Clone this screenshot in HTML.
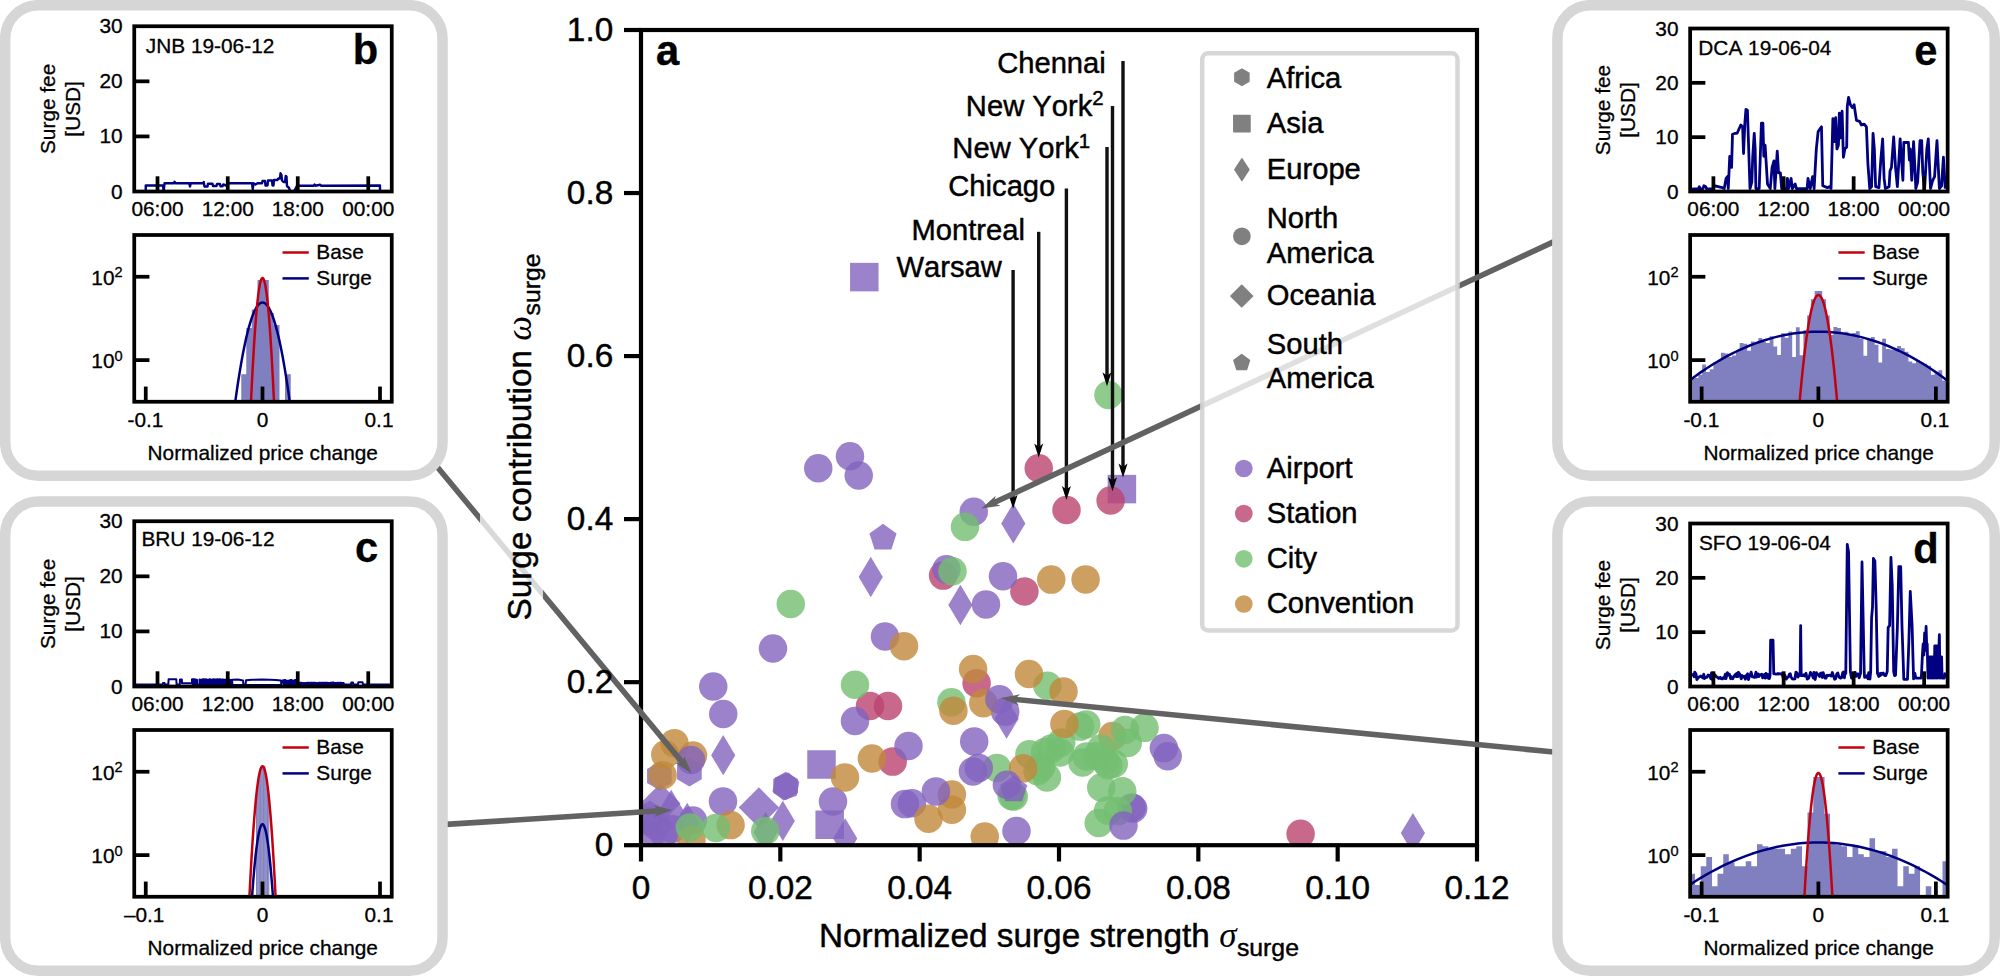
<!DOCTYPE html>
<html lang="en"><head><meta charset="utf-8"><title>Surge pricing figure</title>
<style>html,body{margin:0;padding:0;background:#fff;}svg{display:block;}text{font-family:'Liberation Sans', sans-serif;fill:#000;font-kerning:none;stroke:#000;stroke-width:0.45px;stroke-linejoin:round;}.sm text{stroke-width:0.3px;}</style>
</head><body>
<svg width="2000" height="977" viewBox="0 0 2000 977">
<rect width="2000" height="977" fill="#fff"/>
<clipPath id="cm"><rect x="641" y="30" width="836" height="815.2"/></clipPath>
<g clip-path="url(#cm)" fill-opacity="0.8">
<rect x="1107.65" y="474.85" width="28.5" height="28.5" fill="#8263be"/>
<circle cx="1038.75" cy="468.25" r="14.25" fill="#ba446f"/>
<circle cx="1066.5" cy="510" r="14.25" fill="#ba446f"/>
<circle cx="1110.6" cy="500.5" r="14.25" fill="#ba446f"/>
<circle cx="943.1" cy="575.6" r="14.25" fill="#ba446f"/>
<circle cx="1024.4" cy="591.4" r="14.25" fill="#ba446f"/>
<circle cx="870" cy="706" r="14.25" fill="#ba446f"/>
<circle cx="888" cy="706" r="14.25" fill="#ba446f"/>
<circle cx="892.7" cy="761.6" r="14.25" fill="#ba446f"/>
<circle cx="976.6" cy="683.2" r="14.25" fill="#ba446f"/>
<circle cx="1300.6" cy="833.75" r="14.25" fill="#ba446f"/>
<circle cx="997" cy="767.9" r="14.25" fill="#73be70"/>
<circle cx="818.25" cy="468.25" r="14.25" fill="#8263be"/>
<circle cx="850" cy="456.25" r="14.25" fill="#8263be"/>
<circle cx="858.75" cy="475.5" r="14.25" fill="#8263be"/>
<circle cx="973.75" cy="511.75" r="14.25" fill="#8263be"/>
<circle cx="946.5" cy="569.3" r="14.25" fill="#8263be"/>
<circle cx="1003" cy="576.25" r="14.25" fill="#8263be"/>
<circle cx="986" cy="604.4" r="14.25" fill="#8263be"/>
<circle cx="773" cy="648.5" r="14.25" fill="#8263be"/>
<circle cx="713.25" cy="686.5" r="14.25" fill="#8263be"/>
<circle cx="723.25" cy="714" r="14.25" fill="#8263be"/>
<circle cx="885" cy="636.5" r="14.25" fill="#8263be"/>
<circle cx="855" cy="721" r="14.25" fill="#8263be"/>
<circle cx="908.5" cy="746" r="14.25" fill="#8263be"/>
<circle cx="723" cy="801.4" r="14.25" fill="#8263be"/>
<circle cx="833" cy="801.5" r="14.25" fill="#8263be"/>
<circle cx="692.9" cy="820.5" r="14.25" fill="#8263be"/>
<circle cx="974.2" cy="741.4" r="14.25" fill="#8263be"/>
<circle cx="972.9" cy="771.4" r="14.25" fill="#8263be"/>
<circle cx="978.75" cy="767.9" r="14.25" fill="#8263be"/>
<circle cx="1005.2" cy="711.7" r="14.25" fill="#8263be"/>
<circle cx="905" cy="804.1" r="14.25" fill="#8263be"/>
<circle cx="911.9" cy="803.25" r="14.25" fill="#8263be"/>
<circle cx="1016.5" cy="831" r="14.25" fill="#8263be"/>
<circle cx="1163.9" cy="748.1" r="14.25" fill="#8263be"/>
<circle cx="1167.7" cy="756.25" r="14.25" fill="#8263be"/>
<circle cx="1131.7" cy="807.5" r="14.25" fill="#8263be"/>
<circle cx="1133.2" cy="808.6" r="14.25" fill="#8263be"/>
<circle cx="656" cy="826" r="14.25" fill="#8263be"/>
<circle cx="664" cy="833.5" r="14.25" fill="#8263be"/>
<circle cx="650.5" cy="836" r="14.25" fill="#8263be"/>
<circle cx="647.5" cy="820.5" r="14.25" fill="#8263be"/>
<circle cx="672" cy="829" r="14.25" fill="#8263be"/>
<rect x="850.05" y="262.85" width="28.5" height="28.5" fill="#8263be"/>
<rect x="807.25" y="750.25" width="28.5" height="28.5" fill="#8263be"/>
<rect x="815.45" y="810.5" width="28.5" height="28.5" fill="#8263be"/>
<polygon points="870.75,556.85 882.84,577 870.75,597.15 858.66,577" fill="#8263be"/>
<polygon points="1013.3,503.25 1025.39,523.4 1013.3,543.55 1001.21,523.4" fill="#8263be"/>
<polygon points="960.4,584.85 972.49,605 960.4,625.15 948.31,605" fill="#8263be"/>
<polygon points="723.2,735.05 735.29,755.2 723.2,775.35 711.11,755.2" fill="#8263be"/>
<polygon points="1006.6,698.55 1018.69,718.7 1006.6,738.85 994.51,718.7" fill="#8263be"/>
<polygon points="782.8,800.75 794.89,820.9 782.8,841.05 770.71,820.9" fill="#8263be"/>
<polygon points="765.6,812.05 777.69,832.2 765.6,852.35 753.51,832.2" fill="#8263be"/>
<polygon points="845.2,818.35 857.29,838.5 845.2,858.65 833.11,838.5" fill="#8263be"/>
<polygon points="671.2,789.75 683.29,809.9 671.2,830.05 659.11,809.9" fill="#8263be"/>
<polygon points="687.2,802.85 699.29,823 687.2,843.15 675.11,823" fill="#8263be"/>
<polygon points="1412.9,812.95 1424.99,833.1 1412.9,853.25 1400.81,833.1" fill="#8263be"/>
<polygon points="758.9,787.35 779.05,807.5 758.9,827.65 738.75,807.5" fill="#8263be"/>
<polygon points="660.4,783.35 680.55,803.5 660.4,823.65 640.25,803.5" fill="#8263be"/>
<polygon points="883,523.75 896.55,533.6 891.38,549.53 874.62,549.53 869.45,533.6" fill="#8263be"/>
<polygon points="689.4,757.95 701.74,765.08 701.74,779.33 689.4,786.45 677.06,779.33 677.06,765.08" fill="#8263be"/>
<polygon points="659.4,761.75 671.74,768.88 671.74,783.12 659.4,790.25 647.06,783.12 647.06,768.88" fill="#8263be"/>
<polygon points="785.6,771.75 797.94,778.88 797.94,793.12 785.6,800.25 773.26,793.12 773.26,778.88" fill="#8263be"/>
<polygon points="650,800.75 662.34,807.88 662.34,822.12 650,829.25 637.66,822.12 637.66,807.88" fill="#8263be"/>
<polygon points="788.45,772.58 799.32,781.8 796.77,795.82 783.35,800.62 772.48,791.4 775.03,777.38" fill="#8263be"/>
<circle cx="1112.5" cy="736.1" r="14.25" fill="#c0883b"/>
<circle cx="691.5" cy="840" r="14.25" fill="#c0883b"/>
<circle cx="730.6" cy="825.1" r="14.25" fill="#c0883b"/>
<circle cx="1108.5" cy="395" r="14.25" fill="#73be70"/>
<circle cx="965" cy="526.8" r="14.25" fill="#73be70"/>
<circle cx="952.5" cy="571.25" r="14.25" fill="#73be70"/>
<circle cx="790.75" cy="604" r="14.25" fill="#73be70"/>
<circle cx="855" cy="684.75" r="14.25" fill="#73be70"/>
<circle cx="951.4" cy="702.25" r="14.25" fill="#73be70"/>
<circle cx="1047.4" cy="685.7" r="14.25" fill="#73be70"/>
<circle cx="765.25" cy="831" r="14.25" fill="#73be70"/>
<circle cx="716" cy="828" r="14.25" fill="#73be70"/>
<circle cx="690" cy="827.4" r="14.25" fill="#73be70"/>
<circle cx="1013.75" cy="796.6" r="14.25" fill="#73be70"/>
<circle cx="1011.6" cy="795.8" r="14.25" fill="#73be70"/>
<circle cx="1029.4" cy="754.3" r="14.25" fill="#73be70"/>
<circle cx="1045" cy="752" r="14.25" fill="#73be70"/>
<circle cx="1051.5" cy="748.6" r="14.25" fill="#73be70"/>
<circle cx="1061.25" cy="742.4" r="14.25" fill="#73be70"/>
<circle cx="1046.9" cy="777.4" r="14.25" fill="#73be70"/>
<circle cx="1041.25" cy="767.25" r="14.25" fill="#73be70"/>
<circle cx="1037.5" cy="771.25" r="14.25" fill="#73be70"/>
<circle cx="1080" cy="726.6" r="14.25" fill="#73be70"/>
<circle cx="1086.25" cy="724.4" r="14.25" fill="#73be70"/>
<circle cx="1082.5" cy="762.4" r="14.25" fill="#73be70"/>
<circle cx="1086.6" cy="756.4" r="14.25" fill="#73be70"/>
<circle cx="1101.25" cy="748.6" r="14.25" fill="#73be70"/>
<circle cx="1108.4" cy="765.5" r="14.25" fill="#73be70"/>
<circle cx="1113.75" cy="763.75" r="14.25" fill="#73be70"/>
<circle cx="1125" cy="730" r="14.25" fill="#73be70"/>
<circle cx="1144.5" cy="727.8" r="14.25" fill="#73be70"/>
<circle cx="1127.7" cy="743" r="14.25" fill="#73be70"/>
<circle cx="1101.25" cy="787.5" r="14.25" fill="#73be70"/>
<circle cx="1122.3" cy="791.25" r="14.25" fill="#73be70"/>
<circle cx="1108.1" cy="810.6" r="14.25" fill="#73be70"/>
<circle cx="1117.8" cy="811.1" r="14.25" fill="#73be70"/>
<circle cx="1098.75" cy="823" r="14.25" fill="#73be70"/>
<circle cx="1060" cy="752.5" r="14.25" fill="#73be70"/>
<circle cx="1097" cy="756" r="14.25" fill="#73be70"/>
<circle cx="1105" cy="760.5" r="14.25" fill="#73be70"/>
<circle cx="1051.25" cy="579.6" r="14.25" fill="#c0883b"/>
<circle cx="1085.6" cy="579.4" r="14.25" fill="#c0883b"/>
<circle cx="904" cy="646.2" r="14.25" fill="#c0883b"/>
<circle cx="674.4" cy="743.2" r="14.25" fill="#c0883b"/>
<circle cx="665.3" cy="754.5" r="14.25" fill="#c0883b"/>
<circle cx="693" cy="755.5" r="14.25" fill="#c0883b"/>
<circle cx="662.6" cy="775.2" r="14.25" fill="#c0883b"/>
<circle cx="845" cy="777.4" r="14.25" fill="#c0883b"/>
<circle cx="871.9" cy="758.5" r="14.25" fill="#c0883b"/>
<circle cx="973.1" cy="669" r="14.25" fill="#c0883b"/>
<circle cx="983.3" cy="703.2" r="14.25" fill="#c0883b"/>
<circle cx="953.4" cy="710.7" r="14.25" fill="#c0883b"/>
<circle cx="1029" cy="674" r="14.25" fill="#c0883b"/>
<circle cx="1063.5" cy="691.4" r="14.25" fill="#c0883b"/>
<circle cx="1023.1" cy="768.3" r="14.25" fill="#c0883b"/>
<circle cx="951.9" cy="794.5" r="14.25" fill="#c0883b"/>
<circle cx="951.9" cy="809.75" r="14.25" fill="#c0883b"/>
<circle cx="928.5" cy="818.75" r="14.25" fill="#c0883b"/>
<circle cx="984.75" cy="836.6" r="14.25" fill="#c0883b"/>
<circle cx="1064.4" cy="723.9" r="14.25" fill="#c0883b"/>
<circle cx="1123.5" cy="825.6" r="14.25" fill="#8263be"/>
<circle cx="999.4" cy="699.2" r="14.25" fill="#8263be"/>
<circle cx="691" cy="760" r="14.25" fill="#8263be"/>
<circle cx="1006.9" cy="784.75" r="14.25" fill="#8263be"/>
<circle cx="935.9" cy="791.4" r="14.25" fill="#8263be"/>
<polygon points="1013.75,775.5 1027.3,785.35 1022.13,801.28 1005.37,801.28 1000.2,785.35" fill="#8263be"/>
</g>
<g stroke="#000" stroke-width="4.2" fill="none">
<rect x="641" y="30" width="836" height="815.2"/>
<line x1="624" y1="845.2" x2="641" y2="845.2"/>
<line x1="624" y1="682.16" x2="641" y2="682.16"/>
<line x1="624" y1="519.12" x2="641" y2="519.12"/>
<line x1="624" y1="356.08" x2="641" y2="356.08"/>
<line x1="624" y1="193.04" x2="641" y2="193.04"/>
<line x1="624" y1="30" x2="641" y2="30"/>
<line x1="641" y1="845.2" x2="641" y2="861.5"/>
<line x1="780.33" y1="845.2" x2="780.33" y2="861.5"/>
<line x1="919.67" y1="845.2" x2="919.67" y2="861.5"/>
<line x1="1059" y1="845.2" x2="1059" y2="861.5"/>
<line x1="1198.33" y1="845.2" x2="1198.33" y2="861.5"/>
<line x1="1337.67" y1="845.2" x2="1337.67" y2="861.5"/>
<line x1="1477" y1="845.2" x2="1477" y2="861.5"/>
</g>
<line x1="1123" y1="61" x2="1123" y2="471.5" stroke="#111" stroke-width="3.4"/><polygon fill="#000" points="1123,477.5 1118.5,463.5 1123,467 1127.5,463.5"/>
<line x1="1112.5" y1="106" x2="1112.5" y2="485.2" stroke="#111" stroke-width="3.4"/><polygon fill="#000" points="1112.5,491.2 1108,477.2 1112.5,480.7 1117,477.2"/>
<line x1="1107" y1="147" x2="1107" y2="380.2" stroke="#111" stroke-width="3.4"/><polygon fill="#000" points="1107,386.2 1102.5,372.2 1107,375.7 1111.5,372.2"/>
<line x1="1066.4" y1="188.4" x2="1066.4" y2="494" stroke="#111" stroke-width="3.4"/><polygon fill="#000" points="1066.4,500 1061.9,486 1066.4,489.5 1070.9,486"/>
<line x1="1038.7" y1="231.8" x2="1038.7" y2="451.5" stroke="#111" stroke-width="3.4"/><polygon fill="#000" points="1038.7,457.5 1034.2,443.5 1038.7,447 1043.2,443.5"/>
<line x1="1013.1" y1="270" x2="1013.1" y2="502.8" stroke="#111" stroke-width="3.4"/><polygon fill="#000" points="1013.1,508.8 1008.6,494.8 1013.1,498.3 1017.6,494.8"/>
<line x1="434" y1="463" x2="683.94" y2="764.36" stroke="#626262" stroke-width="5.6"/><polygon fill="#626262" points="691.6,773.6 675.48,762.94 682.98,763.21 684.1,755.79"/>
<line x1="446" y1="824.4" x2="660.52" y2="810.76" stroke="#626262" stroke-width="5.6"/><polygon fill="#626262" points="672.5,810 654.39,816.76 659.03,810.86 653.68,805.59"/>
<line x1="1554" y1="241.6" x2="992.18" y2="503.53" stroke="#626262" stroke-width="5.6"/><polygon fill="#626262" points="981.3,508.6 995.7,495.71 993.54,502.9 1000.43,505.86"/>
<line x1="1554" y1="752" x2="1012.94" y2="699.26" stroke="#626262" stroke-width="5.6"/><polygon fill="#626262" points="1001,698.1 1019.96,694.32 1014.44,699.41 1018.87,705.47"/>
<rect x="480" y="228" width="63" height="420" fill="#fff" fill-opacity="0.76"/>
<rect x="1202.2" y="53.3" width="255.3" height="577.1" rx="6" ry="6" fill="#fff" fill-opacity="0.8" stroke="#d3d3d3" stroke-opacity="0.9" stroke-width="4.5"/>
<g fill="#808080" stroke="#808080" stroke-width="1.6" stroke-linejoin="round">
<polygon points="1241.9,69.25 1248.87,73.27 1248.87,81.32 1241.9,85.35 1234.93,81.33 1234.93,73.27"/>
<rect x="1233.85" y="115.55" width="16.1" height="16.1"/>
<polygon points="1241.9,158.9 1248.9,169.6 1241.9,180.3 1234.9,169.6"/>
<circle cx="1241.9" cy="236.3" r="8.05"/>
<polygon points="1241.7,285.42 1252.38,296.1 1241.7,306.78 1231.02,296.1"/>
<polygon points="1241.7,354.65 1249.45,360.28 1246.49,369.39 1236.91,369.39 1233.95,360.28"/>
</g>
<circle cx="1243.8" cy="468.5" r="8.85" fill="#8263be" fill-opacity="0.8"/>
<circle cx="1243.8" cy="513.6" r="8.85" fill="#ba446f" fill-opacity="0.8"/>
<circle cx="1243.8" cy="558.8" r="8.85" fill="#73be70" fill-opacity="0.8"/>
<circle cx="1243.8" cy="604" r="8.85" fill="#c0883b" fill-opacity="0.8"/>
<g font-size="29.17">
<text x="1266.8" y="87.8">Africa</text>
<text x="1266.8" y="133.1">Asia</text>
<text x="1266.8" y="178.7">Europe</text>
<text x="1266.8" y="227.9">North</text>
<text x="1266.8" y="262.5">America</text>
<text x="1266.8" y="305.1">Oceania</text>
<text x="1266.8" y="353.5">South</text>
<text x="1266.8" y="388.2">America</text>
<text x="1266.8" y="477.6">Airport</text>
<text x="1266.8" y="522.7">Station</text>
<text x="1266.8" y="567.8">City</text>
<text x="1266.8" y="613.2">Convention</text>
<text x="1105.8" y="73.4" text-anchor="end">Chennai</text>
<text x="1103.6" y="115.7" text-anchor="end">New York<tspan font-size="20.4" dy="-10.5">2</tspan></text>
<text x="1090.1" y="158" text-anchor="end">New York<tspan font-size="20.4" dy="-10.5">1</tspan></text>
<text x="1055.3" y="195.8" text-anchor="end">Chicago</text>
<text x="1024.9" y="240" text-anchor="end">Montreal</text>
<text x="1001.9" y="276.8" text-anchor="end">Warsaw</text>
</g>
<g font-size="33.33">
<text x="613.2" y="855.8" text-anchor="end">0</text>
<text x="613.2" y="692.76" text-anchor="end">0.2</text>
<text x="613.2" y="529.72" text-anchor="end">0.4</text>
<text x="613.2" y="366.68" text-anchor="end">0.6</text>
<text x="613.2" y="203.64" text-anchor="end">0.8</text>
<text x="613.2" y="40.6" text-anchor="end">1.0</text>
<text x="641" y="899.4" text-anchor="middle">0</text>
<text x="780.33" y="899.4" text-anchor="middle">0.02</text>
<text x="919.67" y="899.4" text-anchor="middle">0.04</text>
<text x="1059" y="899.4" text-anchor="middle">0.06</text>
<text x="1198.33" y="899.4" text-anchor="middle">0.08</text>
<text x="1337.67" y="899.4" text-anchor="middle">0.10</text>
<text x="1477" y="899.4" text-anchor="middle">0.12</text>
<text x="819" y="947.3">Normalized surge strength <tspan font-family="'Liberation Serif', 'DejaVu Serif', serif" font-style="italic" font-size="35" stroke-width="0">&#963;</tspan><tspan font-size="24.8" dy="8.4" dx="0.5">surge</tspan></text>
<text transform="translate(531.1 620.5) rotate(-90)">Surge contribution <tspan font-family="'Liberation Serif', 'DejaVu Serif', serif" font-style="italic" font-size="35" stroke-width="0">&#969;</tspan><tspan font-size="24.8" dy="8.4" dx="0.5">surge</tspan></text>
</g>
<text x="656" y="65" font-size="41.67" font-weight="bold">a</text>
<g class="sm"><rect x="5.2" y="5.2" width="437.3" height="470.6" rx="33" ry="33" fill="#fff" stroke="#d6d6d6" stroke-width="10.5"/>
<clipPath id="cb1"><rect x="134.25" y="26.25" width="257.5" height="165.25"/></clipPath>
<polyline clip-path="url(#cb1)" fill="none" stroke="#000080" stroke-width="2.4" stroke-linejoin="round" points="145.75,191.5 145.75,185.5 163,185.5 163.75,191.5 164.5,183.25 173.75,183.25 174.5,181.75 175.5,183.25 189.25,183.25 190,186.5 190.75,183.25 203,183.25 203.75,182 204.5,186.5 207.5,186.5 208,183.75 212.5,183.75 213,186 216.5,186 217,184 220,184 220.5,186.25 222.5,186.25 223.25,184.5 226.25,185.5 228,183.25 252,183.25 252.75,189 253.5,183.25 255.5,184.5 257.5,183.25 262,183.25 262.5,181 265,181 265.5,185.5 267.5,185.5 268,180.5 272,180.5 272.5,185.5 273.5,185.5 274,180 277.5,180 278.25,178.5 280,178.5 280.5,173.25 281.5,175 282,180.5 283.5,182 285,182 285.75,176 286.5,176.5 287,186.25 288.75,187.5 290.5,191.5 294,191.5 297,185.75 313.75,185.75 314.5,184.5 315.5,185.75 320,184.75 321.25,185.75 380,185.5 380,191.5"/>
<line x1="134.25" y1="136.42" x2="149.45" y2="136.42" stroke="#000" stroke-width="3.75"/>
<line x1="134.25" y1="81.33" x2="149.45" y2="81.33" stroke="#000" stroke-width="3.75"/>
<line x1="157.5" y1="191.5" x2="157.5" y2="176.3" stroke="#000" stroke-width="3.75"/>
<line x1="227.75" y1="191.5" x2="227.75" y2="176.3" stroke="#000" stroke-width="3.75"/>
<line x1="297.75" y1="191.5" x2="297.75" y2="176.3" stroke="#000" stroke-width="3.75"/>
<line x1="368.25" y1="191.5" x2="368.25" y2="176.3" stroke="#000" stroke-width="3.75"/>
<rect x="134.25" y="26.25" width="257.5" height="165.25" fill="none" stroke="#000" stroke-width="3.75"/>
<text x="122.6" y="198.5" font-size="20.83" text-anchor="end">0</text>
<text x="122.6" y="143.42" font-size="20.83" text-anchor="end">10</text>
<text x="122.6" y="88.33" font-size="20.83" text-anchor="end">20</text>
<text x="122.6" y="33.25" font-size="20.83" text-anchor="end">30</text>
<text x="157.5" y="216.3" font-size="20.83" text-anchor="middle">06:00</text>
<text x="227.75" y="216.3" font-size="20.83" text-anchor="middle">12:00</text>
<text x="297.75" y="216.3" font-size="20.83" text-anchor="middle">18:00</text>
<text x="368.25" y="216.3" font-size="20.83" text-anchor="middle">00:00</text>
<text transform="translate(54.5 108.88) rotate(-90)" font-size="20.83" text-anchor="middle">Surge fee</text>
<text transform="translate(79.5 108.88) rotate(-90)" font-size="20.83" text-anchor="middle">[USD]</text>
<text x="145.8" y="53" font-size="20.83" text-anchor="start">JNB 19-06-12</text>
<text x="378.2" y="64.25" font-size="41.67" text-anchor="end" font-weight="bold">b</text>
<clipPath id="cb2"><rect x="134.25" y="235" width="257.5" height="166.75"/></clipPath>
<g clip-path="url(#cb2)">
<path d="M241.25 401.75H246.25V374.25H241.25ZM246.25 401.75H251.75V328H246.25ZM251.75 401.75H257.5V309.5H251.75ZM257.5 401.75H268.75V280H257.5ZM268.75 401.75H273.75V313H268.75ZM273.75 401.75H279.5V325H273.75ZM285 401.75H290.75V374.25H285Z" fill="#8080c0"/>
<polyline fill="none" stroke="#000080" stroke-width="2.5" stroke-linejoin="round" points="234.44,407.75 235.38,400.85 236.31,394.18 237.25,387.75 238.18,381.55 239.12,375.59 240.05,369.86 240.99,364.36 241.92,359.1 242.86,354.07 243.8,349.28 244.73,344.72 245.67,340.39 246.6,336.3 247.54,332.44 248.47,328.81 249.41,325.42 250.34,322.26 251.28,319.34 252.21,316.65 253.15,314.19 254.08,311.97 255.02,309.98 255.95,308.23 256.89,306.71 257.82,305.42 258.76,304.37 259.69,303.55 260.63,302.97 261.56,302.62 262.5,302.5 263.44,302.62 264.37,302.97 265.31,303.55 266.24,304.37 267.18,305.42 268.11,306.71 269.05,308.23 269.98,309.98 270.92,311.97 271.85,314.19 272.79,316.65 273.72,319.34 274.66,322.26 275.59,325.42 276.53,328.81 277.46,332.44 278.4,336.3 279.33,340.39 280.27,344.72 281.2,349.28 282.14,354.07 283.08,359.1 284.01,364.36 284.95,369.86 285.88,375.59 286.82,381.55 287.75,387.75 288.69,394.18 289.62,400.85 290.56,407.75"/>
<polyline fill="none" stroke="#c4000f" stroke-width="2.5" stroke-linejoin="round" points="250.73,407.75 251.12,399.24 251.51,391.03 251.9,383.1 252.3,375.46 252.69,368.1 253.08,361.04 253.47,354.26 253.87,347.78 254.26,341.58 254.65,335.67 255.04,330.04 255.44,324.71 255.83,319.66 256.22,314.91 256.61,310.44 257.01,306.26 257.4,302.36 257.79,298.76 258.18,295.44 258.58,292.42 258.97,289.68 259.36,287.23 259.75,285.06 260.15,283.19 260.54,281.6 260.93,280.31 261.32,279.3 261.72,278.58 262.11,278.14 262.5,278 262.89,278.14 263.28,278.58 263.68,279.3 264.07,280.31 264.46,281.6 264.85,283.19 265.25,285.06 265.64,287.23 266.03,289.68 266.42,292.42 266.82,295.44 267.21,298.76 267.6,302.36 267.99,306.26 268.39,310.44 268.78,314.91 269.17,319.66 269.56,324.71 269.96,330.04 270.35,335.67 270.74,341.58 271.13,347.78 271.53,354.26 271.92,361.04 272.31,368.1 272.7,375.46 273.1,383.1 273.49,391.03 273.88,399.24 274.27,407.75"/>
</g>
<line x1="134.25" y1="276.75" x2="149.45" y2="276.75" stroke="#000" stroke-width="3.75"/>
<line x1="134.25" y1="360.1" x2="149.45" y2="360.1" stroke="#000" stroke-width="3.75"/>
<line x1="145.75" y1="401.75" x2="145.75" y2="386.55" stroke="#000" stroke-width="3.75"/>
<line x1="262.5" y1="401.75" x2="262.5" y2="386.55" stroke="#000" stroke-width="3.75"/>
<line x1="380" y1="401.75" x2="380" y2="386.55" stroke="#000" stroke-width="3.75"/>
<rect x="134.25" y="235" width="257.5" height="166.75" fill="none" stroke="#000" stroke-width="3.75"/>
<text x="122.6" y="285.05" font-size="20.83" text-anchor="end">10<tspan font-size="14.6" dy="-7.6">2</tspan></text>
<text x="122.6" y="368.4" font-size="20.83" text-anchor="end">10<tspan font-size="14.6" dy="-7.6">0</tspan></text>
<text x="145.45" y="427.4" font-size="20.83" text-anchor="middle">-0.1</text>
<text x="262.5" y="427.4" font-size="20.83" text-anchor="middle">0</text>
<text x="379" y="427.4" font-size="20.83" text-anchor="middle">0.1</text>
<text x="262.75" y="459.5" font-size="20.83" text-anchor="middle">Normalized price change</text>
<line x1="282.5" y1="252.5" x2="308.8" y2="252.5" stroke="#c4000f" stroke-width="2.5"/>
<text x="316.3" y="258.9" font-size="20.83" text-anchor="start">Base</text>
<line x1="282.5" y1="278.4" x2="308.8" y2="278.4" stroke="#000080" stroke-width="2.5"/>
<text x="316.3" y="284.8" font-size="20.83" text-anchor="start">Surge</text></g>
<g class="sm"><rect x="5.2" y="501.5" width="437.3" height="469.3" rx="33" ry="33" fill="#fff" stroke="#d6d6d6" stroke-width="10.5"/>
<clipPath id="cc1"><rect x="134.25" y="521.25" width="257.5" height="165.25"/></clipPath>
<polyline clip-path="url(#cc1)" fill="none" stroke="#000080" stroke-width="2.0" stroke-linejoin="round" points="134.25,684.6 162.5,684.6 163,683 164.5,683 165,684.6 168.3,684.6 168.6,679.3 176.3,679.3 176.6,684.6 179.8,684.6 180,679.4 181.8,679.4 182,683.3 192,683.3 192,679.33 192.83,679.33 192.83,684.35 193.55,684.35 193.55,679.37 194.43,679.37 194.43,684.28 195.17,684.28 195.17,679.6 195.78,679.6 195.78,684.6 196.45,684.6 196.45,679.67 196.97,679.67 196.97,684.28 197.58,684.28 197,684.6 199.5,684.6 199.5,679.39 199.94,679.39 199.94,684.2 200.67,684.2 200.67,679.9 201.35,679.9 201.35,684.59 201.9,684.59 201.9,679.6 202.37,679.6 202.37,684.22 202.95,684.22 202.95,679.32 203.71,679.32 203.71,684.55 204.52,684.55 204.52,679.56 205.17,679.56 205.17,684.46 205.8,684.46 205.8,679.35 206.23,679.35 206.23,684.25 206.75,684.25 206.75,679.82 207.26,679.82 207.26,684.21 208.05,684.21 208.05,679.8 208.79,679.8 208.79,684.37 209.52,684.37 209.52,679.3 210.14,679.3 210.14,684.27 210.65,684.27 210.65,679.94 211.44,679.94 211.44,684.44 212.01,684.44 212.01,679.56 212.59,679.56 212.59,684.2 213.18,684.2 213.18,679.22 213.64,679.22 213.64,684.31 214.47,684.31 214.47,679.6 215.1,679.6 215.1,684.38 215.83,684.38 215.83,679.38 216.51,679.38 216.51,684.38 217.19,684.38 217.19,679.34 217.68,679.34 217.68,684.46 218.49,684.46 218.49,679.48 219.16,679.48 219.16,684.48 219.63,684.48 219.63,679.25 220.39,679.25 220.39,684.29 220.96,684.29 220.96,679.75 221.67,679.75 221.67,684.24 222.49,684.24 222.49,679.53 223.33,679.53 223.33,684.22 223.99,684.22 223.99,679.91 224.62,679.91 224.5,679.7 225.2,679.7 225.2,684.25 225.85,684.25 225.85,679.46 226.86,679.46 226.86,684.29 227.69,684.29 227.69,680.07 228.28,680.07 228.28,684.5 229,684.5 229,679.74 229.66,679.74 229.66,684.57 230.41,684.57 230.41,680.12 231.52,680.12 231.52,684.3 232.35,684.3 232,679.8 238,679.6 243,680.4 243.4,684.6 245.6,684.6 246,680.2 252,679.8 262,679.4 270,679.8 276,680 281,680.4 281.3,684.6 283,680.2 283.96,680.2 283.96,684.39 284.81,684.39 284.81,680.02 285.4,680.02 285.4,684.26 286.28,684.26 286.28,680.71 287.07,680.71 287.07,684.43 287.84,684.43 287.84,680.68 288.48,680.68 288.48,684.39 289.11,684.39 289.11,680.61 289.6,680.61 289.6,684.33 290.56,684.33 290.56,680.02 291.34,680.02 291.34,684.34 292.25,684.34 292.25,680.47 292.86,680.47 292.86,684.44 293.82,684.44 293.82,680.72 294.38,680.72 294.38,684.56 294.91,684.56 294.91,680.02 295.62,680.02 296,682.67 297.44,682.67 297.44,684.44 298.31,684.44 298.31,682.87 299.32,682.87 299.32,684.48 300.26,684.48 300.26,682.68 301.18,682.68 301.18,684.51 302.49,684.51 302.49,682.88 303.3,682.88 303.3,684.42 304.74,684.42 304.74,682.99 306.12,682.99 306.12,684.6 307.25,684.6 307.25,682.63 308.61,682.63 308.61,684.56 309.92,684.56 309.92,682.73 311.23,682.73 311.23,684.52 312.03,684.52 312.03,682.79 313.04,682.79 313.04,684.37 314.04,684.37 314.04,682.85 315.23,682.85 315.23,684.36 316.08,684.36 316.08,682.9 317.24,682.9 317.24,684.42 318.75,684.42 318.75,682.76 320.06,682.76 320.06,684.47 321.26,684.47 321.26,682.63 322.66,682.63 322.66,684.36 323.7,684.36 323.7,682.76 325.24,682.76 325.24,684.57 326.07,684.57 326.07,682.64 327.46,682.64 327.46,684.41 328.58,684.41 328.58,682.91 329.36,682.91 329.36,684.44 330.47,684.44 330.47,682.86 331.54,682.86 331.54,684.5 332.49,684.5 332.49,682.62 333.59,682.62 333.59,684.54 334.9,684.54 334.9,683.01 336.23,683.01 336.23,684.49 337.18,684.49 337.18,682.79 338.33,682.79 338.33,684.44 339.84,684.44 339.84,682.64 340.98,682.64 340.98,684.48 342.3,684.48 342.3,683.05 343.67,683.05 343.67,684.44 345.03,684.44 345,684.6 351,684.6 351.3,682.4 353,682.4 353.3,684.6 358,684.6 358.3,682.3 362.6,682.3 363,684.6 391.75,684.6"/>
<polyline clip-path="url(#cc1)" fill="none" stroke="#000080" stroke-width="2.0" stroke-linejoin="round" points="232,684.9 281.3,684.9"/>
<line x1="134.25" y1="631.42" x2="149.45" y2="631.42" stroke="#000" stroke-width="3.75"/>
<line x1="134.25" y1="576.33" x2="149.45" y2="576.33" stroke="#000" stroke-width="3.75"/>
<line x1="157.5" y1="686.5" x2="157.5" y2="671.3" stroke="#000" stroke-width="3.75"/>
<line x1="227.75" y1="686.5" x2="227.75" y2="671.3" stroke="#000" stroke-width="3.75"/>
<line x1="297.75" y1="686.5" x2="297.75" y2="671.3" stroke="#000" stroke-width="3.75"/>
<line x1="368.25" y1="686.5" x2="368.25" y2="671.3" stroke="#000" stroke-width="3.75"/>
<rect x="134.25" y="521.25" width="257.5" height="165.25" fill="none" stroke="#000" stroke-width="3.75"/>
<text x="122.6" y="693.5" font-size="20.83" text-anchor="end">0</text>
<text x="122.6" y="638.42" font-size="20.83" text-anchor="end">10</text>
<text x="122.6" y="583.33" font-size="20.83" text-anchor="end">20</text>
<text x="122.6" y="528.25" font-size="20.83" text-anchor="end">30</text>
<text x="157.5" y="711.3" font-size="20.83" text-anchor="middle">06:00</text>
<text x="227.75" y="711.3" font-size="20.83" text-anchor="middle">12:00</text>
<text x="297.75" y="711.3" font-size="20.83" text-anchor="middle">18:00</text>
<text x="368.25" y="711.3" font-size="20.83" text-anchor="middle">00:00</text>
<text transform="translate(54.5 603.88) rotate(-90)" font-size="20.83" text-anchor="middle">Surge fee</text>
<text transform="translate(79.5 603.88) rotate(-90)" font-size="20.83" text-anchor="middle">[USD]</text>
<text x="141.4" y="546.3" font-size="20.83" text-anchor="start">BRU 19-06-12</text>
<text x="378.2" y="562" font-size="41.67" text-anchor="end" font-weight="bold">c</text>
<clipPath id="cc2"><rect x="134.25" y="730" width="257.5" height="166.75"/></clipPath>
<g clip-path="url(#cc2)">
<path d="M256 896.75H257.22V790.8H256ZM257.35 896.75H258.57V781.64H257.35ZM258.7 896.75H259.92V778.6H258.7ZM260.05 896.75H261.27V767.64H260.05ZM261.4 896.75H262.62V765.97H261.4ZM262.75 896.75H263.97V767.57H262.75ZM264.1 896.75H265.32V765.69H264.1ZM265.45 896.75H266.67V776.07H265.45ZM266.8 896.75H268.02V786.51H266.8ZM268.15 896.75H269.37V800.32H268.15Z" fill="#8080c0"/>
<polyline fill="none" stroke="#000080" stroke-width="2.5" stroke-linejoin="round" points="251.61,902.75 251.97,897.6 252.34,892.63 252.7,887.84 253.06,883.21 253.43,878.76 253.79,874.49 254.15,870.39 254.51,866.47 254.88,862.72 255.24,859.14 255.6,855.74 255.97,852.51 256.33,849.46 256.69,846.58 257.06,843.88 257.42,841.35 257.78,838.99 258.14,836.81 258.51,834.8 258.87,832.97 259.23,831.32 259.6,829.83 259.96,828.52 260.32,827.39 260.69,826.43 261.05,825.65 261.41,825.03 261.77,824.6 262.14,824.34 262.5,824.25 262.86,824.34 263.23,824.6 263.59,825.03 263.95,825.65 264.31,826.43 264.68,827.39 265.04,828.52 265.4,829.83 265.77,831.31 266.13,832.97 266.49,834.8 266.86,836.81 267.22,838.99 267.58,841.35 267.94,843.88 268.31,846.58 268.67,849.46 269.03,852.51 269.4,855.74 269.76,859.14 270.12,862.72 270.49,866.47 270.85,870.39 271.21,874.49 271.57,878.76 271.94,883.21 272.3,887.83 272.66,892.63 273.03,897.6 273.39,902.75"/>
<polyline fill="none" stroke="#c4000f" stroke-width="2.5" stroke-linejoin="round" points="249.12,902.75 249.57,893.8 250.02,885.16 250.46,876.82 250.91,868.78 251.35,861.04 251.8,853.61 252.25,846.48 252.69,839.66 253.14,833.13 253.58,826.92 254.03,821 254.47,815.39 254.92,810.08 255.37,805.08 255.81,800.38 256.26,795.98 256.7,791.88 257.15,788.09 257.6,784.6 258.04,781.42 258.49,778.53 258.93,775.96 259.38,773.68 259.82,771.71 260.27,770.04 260.72,768.68 261.16,767.62 261.61,766.86 262.05,766.4 262.5,766.25 262.95,766.4 263.39,766.86 263.84,767.62 264.28,768.68 264.73,770.04 265.18,771.71 265.62,773.68 266.07,775.96 266.51,778.53 266.96,781.42 267.4,784.6 267.85,788.09 268.3,791.88 268.74,795.98 269.19,800.38 269.63,805.08 270.08,810.08 270.53,815.39 270.97,821 271.42,826.92 271.86,833.13 272.31,839.66 272.75,846.48 273.2,853.61 273.65,861.04 274.09,868.78 274.54,876.81 274.98,885.16 275.43,893.8 275.88,902.75"/>
</g>
<line x1="134.25" y1="771.75" x2="149.45" y2="771.75" stroke="#000" stroke-width="3.75"/>
<line x1="134.25" y1="855.1" x2="149.45" y2="855.1" stroke="#000" stroke-width="3.75"/>
<line x1="145.75" y1="896.75" x2="145.75" y2="881.55" stroke="#000" stroke-width="3.75"/>
<line x1="262.5" y1="896.75" x2="262.5" y2="881.55" stroke="#000" stroke-width="3.75"/>
<line x1="380" y1="896.75" x2="380" y2="881.55" stroke="#000" stroke-width="3.75"/>
<rect x="134.25" y="730" width="257.5" height="166.75" fill="none" stroke="#000" stroke-width="3.75"/>
<text x="122.6" y="780.05" font-size="20.83" text-anchor="end">10<tspan font-size="14.6" dy="-7.6">2</tspan></text>
<text x="122.6" y="863.4" font-size="20.83" text-anchor="end">10<tspan font-size="14.6" dy="-7.6">0</tspan></text>
<text x="144.15" y="922.4" font-size="20.83" text-anchor="middle">–0.1</text>
<text x="262.5" y="922.4" font-size="20.83" text-anchor="middle">0</text>
<text x="379" y="922.4" font-size="20.83" text-anchor="middle">0.1</text>
<text x="262.75" y="954.5" font-size="20.83" text-anchor="middle">Normalized price change</text>
<line x1="282.5" y1="747.5" x2="308.8" y2="747.5" stroke="#c4000f" stroke-width="2.5"/>
<text x="316.3" y="753.9" font-size="20.83" text-anchor="start">Base</text>
<line x1="282.5" y1="773.4" x2="308.8" y2="773.4" stroke="#000080" stroke-width="2.5"/>
<text x="316.3" y="779.8" font-size="20.83" text-anchor="start">Surge</text></g>
<g class="sm"><rect x="1557.4" y="5.2" width="437.3" height="470.6" rx="33" ry="33" fill="#fff" stroke="#d6d6d6" stroke-width="10.5"/>
<clipPath id="ce1"><rect x="1690.15" y="28.5" width="257.5" height="163"/></clipPath>
<polyline clip-path="url(#ce1)" fill="none" stroke="#000080" stroke-width="2.8" stroke-linejoin="round" points="1691.05,189.1 1698.42,188.55 1699.34,186.71 1700.26,189.1 1703.03,188.55 1703.95,185.79 1705.79,186.71 1706.71,189.1 1713.16,188.55 1715,185.79 1722.37,187.63 1724.21,188.55 1726.05,178.42 1727.53,176.58 1728.26,188.55 1729.74,156.32 1731.58,167.37 1732.5,134.21 1735.26,133.29 1737.1,133.29 1740.79,125 1742.63,126.84 1743.55,153.55 1744.84,123.16 1745.95,109.34 1747.42,110.26 1750,188.55 1751.84,182.1 1752.76,156.32 1754.24,133.29 1755.16,148.95 1755.89,188.55 1759.21,188.55 1761.42,123.16 1762.89,123.16 1763.82,156.32 1765.1,145.26 1767.5,183.95 1770.26,188.55 1772.1,167.37 1773.95,160.92 1774.87,188.55 1777.26,151.16 1778.55,172.89 1780.39,172.89 1781.68,188.55 1786.84,188.55 1787.39,178.42 1788.68,188.55 1791.08,178.42 1792.37,188.55 1795.13,183.95 1796.42,188.55 1807.1,188.55 1808.03,178.42 1809.5,185.79 1810.24,188.55 1812.63,176.58 1814.1,188.55 1816.32,148.95 1818.16,131.45 1821.47,126.84 1822.76,185.79 1827.37,187.63 1829.21,186.71 1831.05,188.55 1832.89,118.55 1834.37,141.58 1835.66,117.63 1836.95,148.95 1838.42,145.26 1839.34,113.03 1840.63,137.89 1842.1,111.18 1843.39,157.24 1844.87,148.95 1846.71,147.1 1847.26,106.58 1848.55,97.37 1850.39,104.74 1852.24,107.5 1854.08,104.74 1856.47,120.39 1859.6,121.32 1861.45,125 1864.21,124.08 1866.42,126.84 1867.89,163.68 1869.74,188.55 1871.58,186.71 1873.05,133.29 1874.34,148.95 1875.63,186.71 1878.95,187.63 1880.79,160 1882.63,138.82 1884.1,178.42 1885.39,188.55 1889.08,186.71 1890,171.05 1891.47,167.37 1893.68,136.97 1895.53,167.37 1897.37,186.71 1900.13,138.82 1902.89,180.26 1903.81,142.5 1908.42,142.5 1909.34,160 1910.26,148.95 1911.74,180.26 1913.58,141.58 1914.87,167.37 1915.79,188.55 1917.63,182.1 1920.03,140.66 1921.68,140.66 1922.79,172.89 1924.63,188.55 1926.84,148.95 1928.31,138.82 1930.52,188.55 1932.74,180.26 1934.58,176.58 1936.97,140.66 1939.37,188.55 1941.58,185.79 1943.42,157.24 1945.26,188.55"/>
<line x1="1690.15" y1="137.17" x2="1705.35" y2="137.17" stroke="#000" stroke-width="3.75"/>
<line x1="1690.15" y1="82.83" x2="1705.35" y2="82.83" stroke="#000" stroke-width="3.75"/>
<line x1="1713.4" y1="191.5" x2="1713.4" y2="176.3" stroke="#000" stroke-width="3.75"/>
<line x1="1783.65" y1="191.5" x2="1783.65" y2="176.3" stroke="#000" stroke-width="3.75"/>
<line x1="1853.65" y1="191.5" x2="1853.65" y2="176.3" stroke="#000" stroke-width="3.75"/>
<line x1="1924.15" y1="191.5" x2="1924.15" y2="176.3" stroke="#000" stroke-width="3.75"/>
<rect x="1690.15" y="28.5" width="257.5" height="163" fill="none" stroke="#000" stroke-width="3.75"/>
<text x="1678.5" y="198.5" font-size="20.83" text-anchor="end">0</text>
<text x="1678.5" y="144.17" font-size="20.83" text-anchor="end">10</text>
<text x="1678.5" y="89.83" font-size="20.83" text-anchor="end">20</text>
<text x="1678.5" y="35.5" font-size="20.83" text-anchor="end">30</text>
<text x="1713.4" y="216.3" font-size="20.83" text-anchor="middle">06:00</text>
<text x="1783.65" y="216.3" font-size="20.83" text-anchor="middle">12:00</text>
<text x="1853.65" y="216.3" font-size="20.83" text-anchor="middle">18:00</text>
<text x="1924.15" y="216.3" font-size="20.83" text-anchor="middle">00:00</text>
<text transform="translate(1610.4 110) rotate(-90)" font-size="20.83" text-anchor="middle">Surge fee</text>
<text transform="translate(1635.4 110) rotate(-90)" font-size="20.83" text-anchor="middle">[USD]</text>
<text x="1698.3" y="54.5" font-size="20.83" text-anchor="start">DCA 19-06-04</text>
<text x="1937.3" y="65.2" font-size="41.67" text-anchor="end" font-weight="bold">e</text>
<clipPath id="ce2"><rect x="1690.15" y="235" width="257.5" height="166.75"/></clipPath>
<g clip-path="url(#ce2)">
<path d="M1690.9 401.75H1694.7V378.84H1690.9ZM1694.65 401.75H1698.45V378.02H1694.65ZM1698.4 401.75H1702.2V374.77H1698.4ZM1702.15 401.75H1705.95V364.4H1702.15ZM1705.9 401.75H1709.7V371.98H1705.9ZM1709.65 401.75H1713.45V369.13H1709.65ZM1713.4 401.75H1717.2V362.07H1713.4ZM1717.15 401.75H1720.95V360.67H1717.15ZM1720.9 401.75H1724.7V352.69H1720.9ZM1724.65 401.75H1728.45V353.56H1724.65ZM1728.4 401.75H1732.2V356.93H1728.4ZM1732.15 401.75H1735.95V355.38H1732.15ZM1735.9 401.75H1739.7V351.59H1735.9ZM1739.65 401.75H1743.45V343.09H1739.65ZM1743.4 401.75H1747.2V343.72H1743.4ZM1747.15 401.75H1750.95V350.66H1747.15ZM1750.9 401.75H1754.7V341.55H1750.9ZM1754.65 401.75H1758.45V342.9H1754.65ZM1758.4 401.75H1762.2V337.9H1758.4ZM1762.15 401.75H1765.95V342.01H1762.15ZM1765.9 401.75H1769.7V343.09H1765.9ZM1769.65 401.75H1773.45V336.16H1769.65ZM1773.4 401.75H1777.2V346.42H1773.4ZM1777.15 401.75H1780.95V355.06H1777.15ZM1780.9 401.75H1784.7V333.19H1780.9ZM1784.65 401.75H1788.45V337.73H1784.65ZM1788.4 401.75H1792.2V331.54H1788.4ZM1792.15 401.75H1795.95V356.94H1792.15ZM1795.9 401.75H1799.7V327.25H1795.9ZM1799.65 401.75H1803.45V355.33H1799.65ZM1803.4 401.75H1807.2V330.28H1803.4ZM1807.15 401.75H1810.95V315.49H1807.15ZM1810.9 401.75H1814.7V299.18H1810.9ZM1814.65 401.75H1818.45V291.02H1814.65ZM1818.4 401.75H1822.2V291.02H1818.4ZM1822.15 401.75H1825.95V299.18H1822.15ZM1825.9 401.75H1829.7V315.49H1825.9ZM1829.65 401.75H1833.45V335.02H1829.65ZM1833.4 401.75H1837.2V326.99H1833.4ZM1837.15 401.75H1840.95V328H1837.15ZM1840.9 401.75H1844.7V334.21H1840.9ZM1844.65 401.75H1848.45V331.81H1844.65ZM1848.4 401.75H1852.2V334.72H1848.4ZM1852.15 401.75H1855.95V332.95H1852.15ZM1855.9 401.75H1859.7V331.15H1855.9ZM1859.65 401.75H1863.45V338.78H1859.65ZM1863.4 401.75H1867.2V355.81H1863.4ZM1867.15 401.75H1870.95V339.13H1867.15ZM1870.9 401.75H1874.7V337.02H1870.9ZM1874.65 401.75H1878.45V344.74H1874.65ZM1878.4 401.75H1882.2V362.6H1878.4ZM1882.15 401.75H1885.95V338.73H1882.15ZM1885.9 401.75H1889.7V349.07H1885.9ZM1889.65 401.75H1893.45V349.47H1889.65ZM1893.4 401.75H1897.2V350H1893.4ZM1897.15 401.75H1900.95V345.97H1897.15ZM1900.9 401.75H1904.7V348.25H1900.9ZM1904.65 401.75H1908.45V351.75H1904.65ZM1908.4 401.75H1912.2V361.47H1908.4ZM1912.15 401.75H1915.95V363.28H1912.15ZM1915.9 401.75H1919.7V360.05H1915.9ZM1919.65 401.75H1923.45V362.18H1919.65ZM1923.4 401.75H1927.2V363.66H1923.4ZM1927.15 401.75H1930.95V365.75H1927.15ZM1930.9 401.75H1934.7V374.64H1930.9ZM1934.65 401.75H1938.45V372.13H1934.65ZM1938.4 401.75H1942.2V370.25H1938.4ZM1942.15 401.75H1945.95V380.59H1942.15ZM1945.9 401.75H1949.7V378.77H1945.9Z" fill="#8080c0"/>
<polyline fill="none" stroke="#000080" stroke-width="2.5" stroke-linejoin="round" points="1657.35,407.75 1662.71,402.77 1668.08,397.95 1673.45,393.31 1678.82,388.83 1684.19,384.53 1689.56,380.39 1694.92,376.42 1700.29,372.62 1705.66,368.99 1711.03,365.53 1716.4,362.23 1721.77,359.11 1727.14,356.15 1732.5,353.37 1737.87,350.75 1743.24,348.3 1748.61,346.02 1753.98,343.91 1759.35,341.97 1764.72,340.19 1770.08,338.59 1775.45,337.15 1780.82,335.89 1786.19,334.79 1791.56,333.86 1796.93,333.1 1802.29,332.51 1807.66,332.09 1813.03,331.83 1818.4,331.75 1823.77,331.83 1829.14,332.09 1834.51,332.51 1839.87,333.1 1845.24,333.86 1850.61,334.79 1855.98,335.89 1861.35,337.15 1866.72,338.59 1872.08,340.19 1877.45,341.97 1882.82,343.91 1888.19,346.02 1893.56,348.3 1898.93,350.75 1904.3,353.37 1909.66,356.15 1915.03,359.11 1920.4,362.23 1925.77,365.53 1931.14,368.99 1936.51,372.62 1941.88,376.42 1947.24,380.39 1952.61,384.53 1957.98,388.83 1963.35,393.31 1968.72,397.95 1974.09,402.77 1979.45,407.75"/>
<polyline fill="none" stroke="#c4000f" stroke-width="2.5" stroke-linejoin="round" points="1799.13,407.75 1799.77,400.36 1800.41,393.22 1801.06,386.33 1801.7,379.69 1802.34,373.3 1802.98,367.16 1803.63,361.27 1804.27,355.63 1804.91,350.25 1805.55,345.11 1806.19,340.23 1806.84,335.59 1807.48,331.21 1808.12,327.07 1808.76,323.19 1809.41,319.55 1810.05,316.17 1810.69,313.04 1811.33,310.16 1811.98,307.53 1812.62,305.15 1813.26,303.02 1813.9,301.14 1814.55,299.51 1815.19,298.13 1815.83,297 1816.47,296.13 1817.12,295.5 1817.76,295.13 1818.4,295 1819.04,295.13 1819.68,295.5 1820.33,296.13 1820.97,297 1821.61,298.13 1822.25,299.51 1822.9,301.14 1823.54,303.02 1824.18,305.15 1824.82,307.53 1825.47,310.16 1826.11,313.04 1826.75,316.17 1827.39,319.55 1828.04,323.19 1828.68,327.07 1829.32,331.21 1829.96,335.59 1830.61,340.23 1831.25,345.11 1831.89,350.25 1832.53,355.63 1833.17,361.27 1833.82,367.16 1834.46,373.3 1835.1,379.69 1835.74,386.33 1836.39,393.22 1837.03,400.36 1837.67,407.75"/>
</g>
<line x1="1690.15" y1="276.75" x2="1705.35" y2="276.75" stroke="#000" stroke-width="3.75"/>
<line x1="1690.15" y1="360.1" x2="1705.35" y2="360.1" stroke="#000" stroke-width="3.75"/>
<line x1="1701.65" y1="401.75" x2="1701.65" y2="386.55" stroke="#000" stroke-width="3.75"/>
<line x1="1818.4" y1="401.75" x2="1818.4" y2="386.55" stroke="#000" stroke-width="3.75"/>
<line x1="1935.9" y1="401.75" x2="1935.9" y2="386.55" stroke="#000" stroke-width="3.75"/>
<rect x="1690.15" y="235" width="257.5" height="166.75" fill="none" stroke="#000" stroke-width="3.75"/>
<text x="1678.5" y="285.05" font-size="20.83" text-anchor="end">10<tspan font-size="14.6" dy="-7.6">2</tspan></text>
<text x="1678.5" y="368.4" font-size="20.83" text-anchor="end">10<tspan font-size="14.6" dy="-7.6">0</tspan></text>
<text x="1701.35" y="427.4" font-size="20.83" text-anchor="middle">-0.1</text>
<text x="1818.4" y="427.4" font-size="20.83" text-anchor="middle">0</text>
<text x="1934.9" y="427.4" font-size="20.83" text-anchor="middle">0.1</text>
<text x="1818.65" y="459.5" font-size="20.83" text-anchor="middle">Normalized price change</text>
<line x1="1838.4" y1="252.5" x2="1864.7" y2="252.5" stroke="#c4000f" stroke-width="2.5"/>
<text x="1872.2" y="258.9" font-size="20.83" text-anchor="start">Base</text>
<line x1="1838.4" y1="278.4" x2="1864.7" y2="278.4" stroke="#000080" stroke-width="2.5"/>
<text x="1872.2" y="284.8" font-size="20.83" text-anchor="start">Surge</text></g>
<g class="sm"><rect x="1557.4" y="501.5" width="437.3" height="469.3" rx="33" ry="33" fill="#fff" stroke="#d6d6d6" stroke-width="10.5"/>
<clipPath id="cd1"><rect x="1690.15" y="523.5" width="257.5" height="163"/></clipPath>
<polyline clip-path="url(#cd1)" fill="none" stroke="#000080" stroke-width="2.8" stroke-linejoin="round" points="1691.97,673.79 1693.03,674.81 1694.14,676.79 1694.75,672.05 1696.07,673.95 1696.84,679.65 1697.83,678.42 1698.82,676.89 1699.51,676.86 1700.86,675.99 1702.1,677.14 1702.71,677.81 1703.81,674.28 1704.39,678.64 1705.38,677.51 1706.74,677.47 1708.14,675 1709.43,675.39 1710.84,678.75 1711.49,673 1712.24,679.42 1713.19,676.79 1714.02,675.87 1714.93,674.66 1716.02,676.47 1717.41,677.22 1718.82,678.57 1720.28,677.14 1720.98,678.61 1722.43,678.95 1723.5,677.47 1724.25,678.38 1725.33,674.15 1725.94,678.55 1727.41,672.63 1728.7,675.12 1729.39,674.22 1730.65,678.7 1731.24,676.7 1731.83,677.5 1732.69,678.76 1734.15,675.86 1735.62,674.34 1736.24,676.59 1736.83,673.47 1737.75,676.67 1738.45,672.27 1739.8,674.37 1741.24,678.88 1742.14,675.51 1743.17,676.93 1744.27,676.27 1745.4,679.22 1746.41,675.28 1747.63,673.79 1748.46,679.51 1749.49,676.19 1750.06,675.16 1751.14,672.1 1752.26,676.84 1752.87,676.8 1753.85,677.2 1754.73,677.42 1755.96,672.12 1756.57,677.18 1758.01,673.89 1758.98,676.53 1759.83,674.76 1760.67,674.8 1761.77,674.27 1762.67,677.92 1763.25,676.35 1764.48,674.35 1765.24,678.17 1766.01,673.4 1766.96,677.35 1767.61,674.44 1768.47,678.4 1769.43,678.57 1770.08,675.26 1770.63,640.26 1773.03,640.26 1773.76,673.79 1774.97,673.6 1775.78,674.08 1776.93,674.08 1777.8,673.56 1778.62,674.07 1779.42,673.73 1780.36,673.78 1781.29,674.17 1781.98,673.46 1783.4,678.75 1784.87,675.31 1786.29,679.12 1787.05,677.71 1788.37,677.08 1789.4,674.18 1790.27,673.71 1790.89,676.5 1791.7,678.21 1792.3,678.94 1793.49,679.09 1794.87,678.91 1795.95,672.05 1797.19,673.28 1798.02,677.08 1799.06,675.15 1800.1,675.26 1800.66,625.53 1801.21,675.63 1802.69,675.64 1803.96,674.67 1804.69,676.08 1806,673.27 1807.28,679.08 1808.58,678.32 1809.14,676.81 1810.48,672.33 1811.29,674.02 1812.32,675.22 1813.31,677.95 1813.87,672.37 1814.54,672.91 1815.15,679.49 1816.49,672.61 1817.51,674.39 1818.35,674.66 1819.5,676.49 1820.38,673.42 1821.24,672.9 1822.3,677.49 1823.2,672.56 1823.92,674.83 1825.03,678 1825.93,678.14 1827.06,675.29 1827.96,675.79 1829.16,675.2 1830.35,675.51 1831.13,676.09 1832.32,672.5 1833.26,675.24 1834.63,679.19 1835.52,678.89 1836.8,673.97 1837.78,672.9 1839.09,677.07 1840.46,678.08 1841.62,677.62 1842.7,672.74 1843.79,671.98 1844.47,677.94 1845.07,672.66 1845.79,673.42 1847.26,544.47 1848.55,551.84 1850.39,671.58 1851.5,678.13 1852.08,677.88 1853.11,677.48 1853.76,677.74 1855.17,672.42 1856.02,676.31 1857.34,673.82 1858.05,673.88 1859.17,677.78 1860.09,674.79 1860.53,673.42 1862,561.97 1864.21,671.58 1864.59,677.29 1865.84,677.16 1866.87,675.69 1868.02,678.89 1868.71,672.69 1869.95,679.04 1870.66,671.58 1871.58,618.16 1872.5,607.1 1873.42,558.29 1874.89,561.05 1876.18,607.1 1877.47,673.42 1878.82,676.47 1879.62,673.63 1880.19,675.66 1881.1,673.28 1881.98,674.44 1883.25,673.06 1884.71,675.66 1885.82,675.57 1887.24,671.58 1888.16,627.37 1889.63,625.53 1890.92,557.37 1892.21,585 1893.68,671.58 1894.6,675.63 1895.53,675.26 1897.37,627.37 1898.84,566.58 1900.68,566.58 1901.97,625.53 1903.81,679.31 1907.5,679.31 1908.79,643.95 1910.26,591.45 1912.1,625.53 1913.58,678.95 1914.87,673.42 1915.79,678.03 1921.31,678.03 1922.42,655 1923.16,643.95 1923.89,655 1924.63,632.89 1925.37,647.63 1926.1,626.45 1926.84,651.32 1927.21,643.95 1927.95,678.03 1928.5,656.84 1929.09,678.03 1929.68,656.84 1930.27,678.03 1930.86,656.84 1931.45,678.03 1932.04,656.84 1932.62,678.03 1933.21,656.84 1933.8,678.03 1934.21,678.03 1934.76,645.79 1935.35,678.03 1935.94,645.79 1936.53,678.03 1937.12,645.79 1937.89,678.03 1938.63,655 1939.37,634.74 1939.92,678.03 1940.47,656.84 1941.02,678.03 1941.58,656.84 1942.13,678.03 1944.34,678.03 1945.26,672.5"/>
<line x1="1690.15" y1="632.17" x2="1705.35" y2="632.17" stroke="#000" stroke-width="3.75"/>
<line x1="1690.15" y1="577.83" x2="1705.35" y2="577.83" stroke="#000" stroke-width="3.75"/>
<line x1="1713.4" y1="686.5" x2="1713.4" y2="671.3" stroke="#000" stroke-width="3.75"/>
<line x1="1783.65" y1="686.5" x2="1783.65" y2="671.3" stroke="#000" stroke-width="3.75"/>
<line x1="1853.65" y1="686.5" x2="1853.65" y2="671.3" stroke="#000" stroke-width="3.75"/>
<line x1="1924.15" y1="686.5" x2="1924.15" y2="671.3" stroke="#000" stroke-width="3.75"/>
<rect x="1690.15" y="523.5" width="257.5" height="163" fill="none" stroke="#000" stroke-width="3.75"/>
<text x="1678.5" y="693.5" font-size="20.83" text-anchor="end">0</text>
<text x="1678.5" y="639.17" font-size="20.83" text-anchor="end">10</text>
<text x="1678.5" y="584.83" font-size="20.83" text-anchor="end">20</text>
<text x="1678.5" y="530.5" font-size="20.83" text-anchor="end">30</text>
<text x="1713.4" y="711.3" font-size="20.83" text-anchor="middle">06:00</text>
<text x="1783.65" y="711.3" font-size="20.83" text-anchor="middle">12:00</text>
<text x="1853.65" y="711.3" font-size="20.83" text-anchor="middle">18:00</text>
<text x="1924.15" y="711.3" font-size="20.83" text-anchor="middle">00:00</text>
<text transform="translate(1610.4 605) rotate(-90)" font-size="20.83" text-anchor="middle">Surge fee</text>
<text transform="translate(1635.4 605) rotate(-90)" font-size="20.83" text-anchor="middle">[USD]</text>
<text x="1698.9" y="549.6" font-size="20.83" text-anchor="start">SFO 19-06-04</text>
<text x="1938.7" y="563" font-size="41.67" text-anchor="end" font-weight="bold">d</text>
<clipPath id="cd2"><rect x="1690.15" y="730" width="257.5" height="166.75"/></clipPath>
<g clip-path="url(#cd2)">
<path d="M1692 896.75H1695.05V873.75H1692ZM1695 896.75H1700.8V885H1695ZM1700.75 896.75H1706.3V866.25H1700.75ZM1706.25 896.75H1712.05V857H1706.25ZM1712 896.75H1717.55V886.25H1712ZM1717.5 896.75H1723.3V873.75H1717.5ZM1723.25 896.75H1728.8V854.25H1723.25ZM1728.75 896.75H1734.55V862.5H1728.75ZM1734.5 896.75H1745.8V866.25H1734.5ZM1745.75 896.75H1751.3V861.25H1745.75ZM1751.25 896.75H1757.05V866.25H1751.25ZM1757 896.75H1762.55V844.25H1757ZM1762.5 896.75H1768.3V846.25H1762.5ZM1768.25 896.75H1785.05V848.75H1768.25ZM1785 896.75H1790.8V854.25H1785ZM1790.75 896.75H1796.3V848.75H1790.75ZM1796.25 896.75H1802.05V846.25H1796.25ZM1802 896.75H1807.55V866.25H1802ZM1807.5 896.75H1813.3V812.5H1807.5ZM1813.25 896.75H1824.55V777H1813.25ZM1824.5 896.75H1830.05V813.75H1824.5ZM1830 896.75H1835.8V843.75H1830ZM1835.75 896.75H1841.3V845H1835.75ZM1841.25 896.75H1847.05V846.25H1841.25ZM1847 896.75H1852.55V857H1847ZM1852.5 896.75H1858.3V845H1852.5ZM1858.25 896.75H1863.8V854.25H1858.25ZM1863.75 896.75H1869.55V857H1863.75ZM1869.5 896.75H1875.05V838.25H1869.5ZM1875 896.75H1880.8V851.25H1875ZM1880.75 896.75H1886.3V851.25H1880.75ZM1886.25 896.75H1892.05V857H1886.25ZM1892 896.75H1897.55V848.75H1892ZM1897.5 896.75H1903.3V886.25H1897.5ZM1903.25 896.75H1908.8V866.25H1903.25ZM1908.75 896.75H1914.55V873.75H1908.75ZM1914.5 896.75H1920.05V866.25H1914.5ZM1925.75 896.75H1931.3V886.25H1925.75ZM1942.5 896.75H1947.55V861.25H1942.5Z" fill="#8080c0"/>
<polyline fill="none" stroke="#000080" stroke-width="2.5" stroke-linejoin="round" points="1664.99,902.75 1670.1,898.8 1675.22,894.98 1680.33,891.3 1685.44,887.75 1690.56,884.34 1695.67,881.06 1700.78,877.91 1705.9,874.9 1711.01,872.02 1716.13,869.28 1721.24,866.67 1726.35,864.19 1731.47,861.85 1736.58,859.64 1741.69,857.56 1746.81,855.62 1751.92,853.81 1757.04,852.14 1762.15,850.6 1767.26,849.19 1772.38,847.92 1777.49,846.78 1782.6,845.78 1787.72,844.91 1792.83,844.17 1797.95,843.57 1803.06,843.1 1808.17,842.77 1813.29,842.57 1818.4,842.5 1823.51,842.57 1828.63,842.77 1833.74,843.1 1838.85,843.57 1843.97,844.17 1849.08,844.91 1854.2,845.78 1859.31,846.78 1864.42,847.92 1869.54,849.19 1874.65,850.6 1879.76,852.14 1884.88,853.81 1889.99,855.62 1895.11,857.56 1900.22,859.64 1905.33,861.85 1910.45,864.19 1915.56,866.67 1920.67,869.28 1925.79,872.02 1930.9,874.9 1936.02,877.91 1941.13,881.06 1946.24,884.34 1951.36,887.75 1956.47,891.3 1961.58,894.98 1966.7,898.8 1971.81,902.75"/>
<polyline fill="none" stroke="#c4000f" stroke-width="2.5" stroke-linejoin="round" points="1804.06,902.75 1804.54,894.24 1805.02,886.03 1805.49,878.1 1805.97,870.46 1806.45,863.1 1806.93,856.04 1807.41,849.26 1807.88,842.78 1808.36,836.58 1808.84,830.67 1809.32,825.04 1809.8,819.71 1810.27,814.66 1810.75,809.91 1811.23,805.44 1811.71,801.26 1812.19,797.36 1812.66,793.76 1813.14,790.44 1813.62,787.42 1814.1,784.68 1814.58,782.23 1815.05,780.06 1815.53,778.19 1816.01,776.6 1816.49,775.31 1816.97,774.3 1817.44,773.58 1817.92,773.14 1818.4,773 1818.88,773.14 1819.36,773.58 1819.83,774.3 1820.31,775.31 1820.79,776.6 1821.27,778.19 1821.75,780.06 1822.22,782.23 1822.7,784.68 1823.18,787.42 1823.66,790.44 1824.14,793.76 1824.61,797.36 1825.09,801.26 1825.57,805.44 1826.05,809.91 1826.53,814.66 1827,819.71 1827.48,825.04 1827.96,830.67 1828.44,836.58 1828.92,842.78 1829.39,849.26 1829.87,856.04 1830.35,863.1 1830.83,870.46 1831.31,878.1 1831.78,886.03 1832.26,894.24 1832.74,902.75"/>
</g>
<line x1="1690.15" y1="771.75" x2="1705.35" y2="771.75" stroke="#000" stroke-width="3.75"/>
<line x1="1690.15" y1="855.1" x2="1705.35" y2="855.1" stroke="#000" stroke-width="3.75"/>
<line x1="1701.65" y1="896.75" x2="1701.65" y2="881.55" stroke="#000" stroke-width="3.75"/>
<line x1="1818.4" y1="896.75" x2="1818.4" y2="881.55" stroke="#000" stroke-width="3.75"/>
<line x1="1935.9" y1="896.75" x2="1935.9" y2="881.55" stroke="#000" stroke-width="3.75"/>
<rect x="1690.15" y="730" width="257.5" height="166.75" fill="none" stroke="#000" stroke-width="3.75"/>
<text x="1678.5" y="780.05" font-size="20.83" text-anchor="end">10<tspan font-size="14.6" dy="-7.6">2</tspan></text>
<text x="1678.5" y="863.4" font-size="20.83" text-anchor="end">10<tspan font-size="14.6" dy="-7.6">0</tspan></text>
<text x="1701.35" y="922.4" font-size="20.83" text-anchor="middle">-0.1</text>
<text x="1818.4" y="922.4" font-size="20.83" text-anchor="middle">0</text>
<text x="1934.9" y="922.4" font-size="20.83" text-anchor="middle">0.1</text>
<text x="1818.65" y="954.5" font-size="20.83" text-anchor="middle">Normalized price change</text>
<line x1="1838.4" y1="747.5" x2="1864.7" y2="747.5" stroke="#c4000f" stroke-width="2.5"/>
<text x="1872.2" y="753.9" font-size="20.83" text-anchor="start">Base</text>
<line x1="1838.4" y1="773.4" x2="1864.7" y2="773.4" stroke="#000080" stroke-width="2.5"/>
<text x="1872.2" y="779.8" font-size="20.83" text-anchor="start">Surge</text></g>
</svg>
</body></html>
